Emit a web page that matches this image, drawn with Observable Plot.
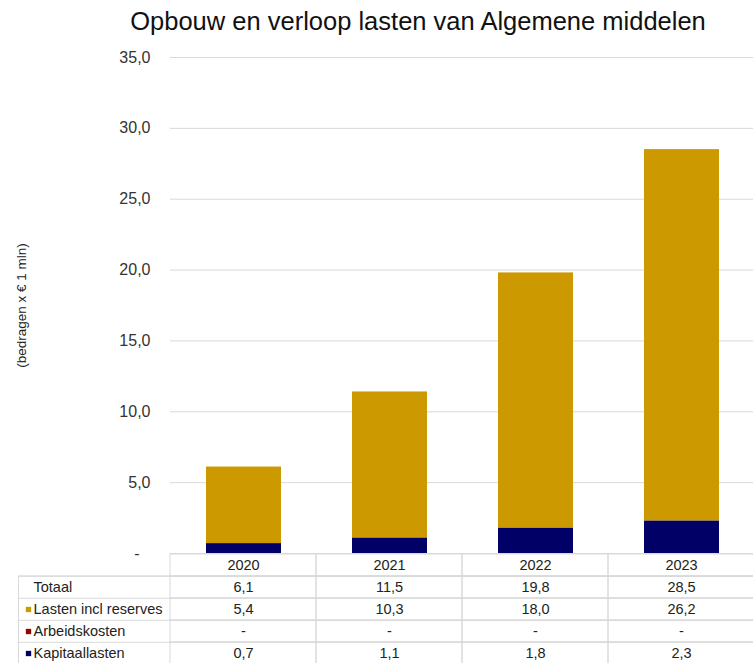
<!DOCTYPE html>
<html>
<head>
<meta charset="utf-8">
<script src="https://cdn.jsdelivr.net/npm/d3@7"></script>
<script src="https://cdn.jsdelivr.net/npm/@observablehq/plot@0.6"></script>
<style>
  html, body { margin: 0; padding: 0; background: #fff; overflow: hidden; }
  #wrap { position: relative; width: 753px; height: 663px; font-family: "Liberation Sans", Arial, sans-serif; }
  #title { position: absolute; left: 418px; top: 7px; transform: translateX(-50%); white-space: nowrap;
           font-size: 25.5px; color: #111; }
  #chart, #table { position: absolute; left: 0; }
  #chart { top: 0; }
  #table { top: 553px; }
</style>
</head>
<body>
<div id="wrap">
  <div id="chart"></div>
  <div id="table"></div>
  <div id="title"></div>
</div>
<script>
const titleText = "Opbouw en verloop lasten van Algemene middelen";
const yLabel = "(bedragen x € 1 mln)";
const years = ["2020", "2021", "2022", "2023"];
const totaal = [6.1, 11.5, 19.8, 28.5];
const lastenInclReserves = [5.4, 10.3, 18.0, 26.2];
const arbeidskosten = [0, 0, 0, 0];
const kapitaallasten = [0.7, 1.1, 1.8, 2.3];
const yTicks = [5, 10, 15, 20, 25, 30, 35];
const seriesNames = ["Kapitaallasten", "Arbeidskosten", "Lasten incl reserves"];
const seriesColors = ["#000066", "#990000", "#CC9900"];
const rowNames = ["", "Totaal", "Lasten incl reserves", "Arbeidskosten", "Kapitaallasten"];

document.getElementById("title").textContent = titleText;

const fmt = v => (v === 0 || v == null) ? "-" : v.toFixed(1).replace(".", ",");

const seriesValues = {
  "Kapitaallasten": kapitaallasten,
  "Arbeidskosten": arbeidskosten,
  "Lasten incl reserves": lastenInclReserves
};
const barData = [];
for (const s of seriesNames) years.forEach((y, i) => barData.push({year: y, series: s, value: seriesValues[s][i]}));

const font = "Liberation Sans, Arial, sans-serif";
const gridColor = "#d9d9d9";
const xRange = [170, 754];

const chart = Plot.plot({
  width: 753, height: 566,
  marginTop: 57, marginBottom: 13, marginLeft: 170, marginRight: 0,
  style: {fontFamily: font, background: "transparent"},
  x: {domain: years, range: xRange, paddingInner: 0.487, paddingOuter: 0.2435, axis: null},
  y: {domain: [0, 35], axis: null},
  color: {domain: seriesNames, range: seriesColors},
  marks: [
    Plot.ruleY([0, ...yTicks], {stroke: gridColor, strokeWidth: 1}),
    Plot.axisY(yTicks, {tickSize: 0, tickPadding: 20, tickFormat: fmt, fontSize: 16, fill: "#333", label: null}),
    Plot.axisY([0], {tickSize: 0, tickPadding: 31, tickFormat: fmt, fontSize: 16, fill: "#333", label: null}),
    Plot.barY(barData, {x: "year", y: "value", fill: "series", order: seriesNames, inset: 0}),
    Plot.text([yLabel], {frameAnchor: "left", textAnchor: "middle", rotate: -90, dx: -149, fontSize: 13.5, fill: "#222"})
  ]
});
document.getElementById("chart").appendChild(chart);

// Table
const rowValues = {
  "Totaal": totaal,
  "Lasten incl reserves": lastenInclReserves,
  "Arbeidskosten": arbeidskosten,
  "Kapitaallasten": kapitaallasten
};
const cells = [];
for (const r of rowNames) years.forEach((y, i) => cells.push({
  year: y, row: r, text: r === "" ? y : fmt(rowValues[r][i])
}));
const legendRows = rowNames.filter(r => seriesNames.includes(r));
const bodyRows = rowNames.filter(r => r !== "");

const table = Plot.plot({
  width: 753, height: 112,
  marginTop: 0, marginBottom: 0, marginLeft: 170, marginRight: 0,
  style: {fontFamily: font, background: "transparent"},
  x: {domain: years, range: xRange, padding: 0, axis: null},
  y: {domain: rowNames, padding: 0, axis: null},
  color: {domain: seriesNames, range: seriesColors},
  marks: [
    Plot.cell(cells, {x: "year", y: "row", fill: "none", stroke: gridColor}),
    Plot.ruleY(bodyRows, {y: d => d, dy: -11.2, insetLeft: -152, stroke: gridColor}),
    Plot.frame({insetLeft: -152, insetTop: 22.4, insetRight: -2, insetBottom: -2, stroke: gridColor}),
    Plot.text(cells, {x: "year", y: "row", text: "text", fontSize: 14.5, fill: "#222"}),
    Plot.text(bodyRows, {frameAnchor: "left", y: d => d, text: d => d, dx: -137, textAnchor: "start", fontSize: 14.5, fill: "#222"}),
    Plot.dot(legendRows, {frameAnchor: "left", y: d => d, dx: -142, symbol: "square", r: 3, fill: d => d, stroke: null})
  ]
});
document.getElementById("table").appendChild(table);
</script>
</body>
</html>
